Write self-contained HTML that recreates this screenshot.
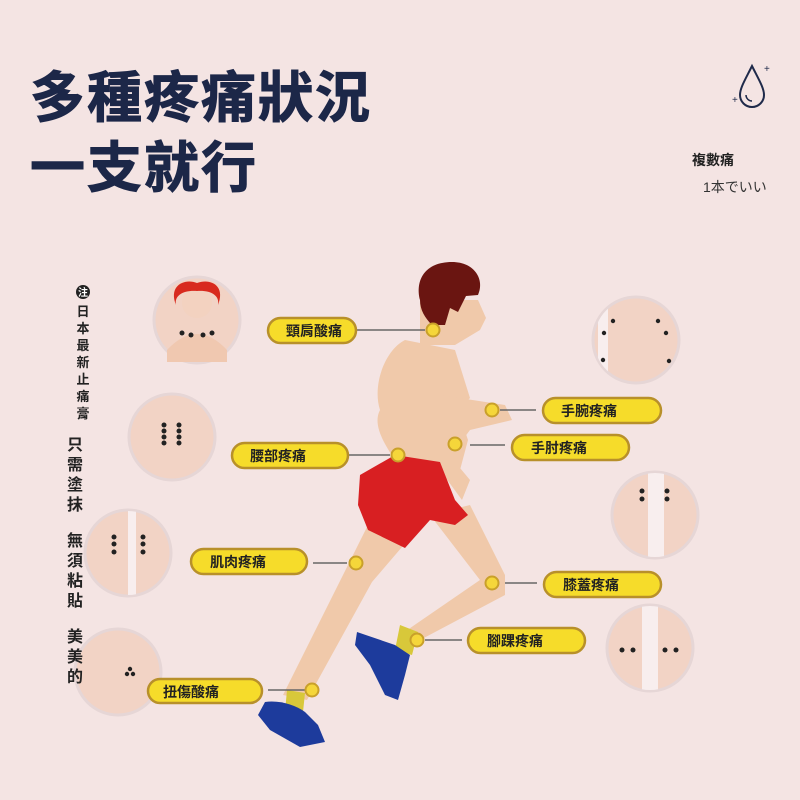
<!DOCTYPE html>
<html><head><meta charset="utf-8"><style>
body{margin:0;width:800px;height:800px;overflow:hidden;background:#f4e4e3;font-family:"Liberation Sans","Noto Sans CJK TC",sans-serif}
</style></head><body>
<svg width="800" height="800" viewBox="0 0 800 800" xmlns="http://www.w3.org/2000/svg" style="position:absolute;left:0;top:0">
<defs>
<clipPath id="c1"><circle cx="655" cy="515" r="42"/></clipPath>
<clipPath id="c2"><circle cx="650" cy="648" r="42"/></clipPath>
<clipPath id="c3"><circle cx="636" cy="340" r="42"/></clipPath>
<clipPath id="c4"><circle cx="128" cy="553" r="42"/></clipPath>
</defs>
<rect width="800" height="800" fill="#f4e4e3"/>
<g font-family="Liberation Sans, Noto Sans CJK TC, sans-serif" font-weight="bold">
<text x="30" y="117" font-size="55" fill="#1c2748" letter-spacing="2" stroke="#1c2748" stroke-width="1">多種疼痛狀況</text>
<text x="30" y="187" font-size="55" fill="#1c2748" letter-spacing="2" stroke="#1c2748" stroke-width="1">一支就行</text>
<text x="692" y="165" font-size="14" fill="#222">複數痛</text>
<text x="703" y="192" font-size="14" fill="#333" font-weight="normal">1本でいい</text>
</g>
<path d="M752 66 C745 80 740 88 740 95 A12 12 0 0 0 764 95 C764 88 759 80 752 66Z" fill="none" stroke="#1f2a4a" stroke-width="2"/>
<path d="M746 95 A6 6 0 0 0 752 101" fill="none" stroke="#1f2a4a" stroke-width="1.5"/>
<text x="732" y="103" font-size="10" fill="#1f2a4a">+</text>
<text x="764" y="72" font-size="10" fill="#1f2a4a">+</text>

<g fill="#f2d3c5" stroke="#e6d6d6" stroke-width="3">
<circle cx="197" cy="320" r="43"/>
<circle cx="172" cy="437" r="43"/>
<circle cx="128" cy="553" r="43"/>
<circle cx="118" cy="672" r="43"/>
<circle cx="636" cy="340" r="43"/>
<circle cx="655" cy="515" r="43"/>
<circle cx="650" cy="648" r="43"/>
</g>
<rect x="648" y="470" width="16" height="90" fill="#f8eeee" clip-path="url(#c1)"/>
<rect x="642" y="600" width="16" height="95" fill="#f8eeee" clip-path="url(#c2)"/>
<rect x="598" y="300" width="10" height="80" fill="#f8eeee" clip-path="url(#c3)"/>
<rect x="128" y="510" width="8" height="90" fill="#f8eeee" clip-path="url(#c4)"/>
<circle cx="197" cy="303" r="15" fill="#f3d2c0"/>
<path d="M176 305 C168 285 185 278 197 283 C210 278 226 285 218 305 C220 295 210 290 197 291 C184 290 174 295 176 305Z" fill="#d82a1e"/>
<path d="M167 350 Q197 318 227 350 L227 362 L167 362Z" fill="#f0c8b0"/>
<g fill="#222">
<circle cx="182" cy="333" r="2.5"/><circle cx="191" cy="335" r="2.5"/><circle cx="203" cy="335" r="2.5"/><circle cx="212" cy="333" r="2.5"/>
<circle cx="164" cy="425" r="2.5"/><circle cx="164" cy="431" r="2.5"/><circle cx="164" cy="437" r="2.5"/><circle cx="164" cy="443" r="2.5"/>
<circle cx="179" cy="425" r="2.5"/><circle cx="179" cy="431" r="2.5"/><circle cx="179" cy="437" r="2.5"/><circle cx="179" cy="443" r="2.5"/>
<circle cx="114" cy="537" r="2.5"/><circle cx="114" cy="544" r="2.5"/><circle cx="114" cy="552" r="2.5"/>
<circle cx="143" cy="537" r="2.5"/><circle cx="143" cy="544" r="2.5"/><circle cx="143" cy="552" r="2.5"/>
<circle cx="130" cy="669" r="2.2"/><circle cx="127" cy="674" r="2.2"/><circle cx="133" cy="674" r="2.2"/>
<circle cx="613" cy="321" r="2.2"/><circle cx="604" cy="333" r="2.2"/><circle cx="603" cy="360" r="2.2"/>
<circle cx="658" cy="321" r="2.2"/><circle cx="666" cy="333" r="2.2"/><circle cx="669" cy="361" r="2.2"/>
<circle cx="642" cy="491" r="2.5"/><circle cx="642" cy="499" r="2.5"/><circle cx="667" cy="491" r="2.5"/><circle cx="667" cy="499" r="2.5"/>
<circle cx="622" cy="650" r="2.5"/><circle cx="633" cy="650" r="2.5"/><circle cx="665" cy="650" r="2.5"/><circle cx="676" cy="650" r="2.5"/>
</g>

<g fill="#f0c9aa">
<path d="M420 300 L478 300 L486 318 L480 330 L470 336 L455 345 L420 345Z"/>
<path d="M405 340 C385 350 372 385 380 410 C372 425 385 445 395 460 L460 470 L468 440 L458 410 L470 398 L455 350 Z"/>
<path d="M440 395 L505 405 L512 420 L470 430 L455 450 L445 430Z"/>
<path d="M445 450 L470 480 L462 500 L440 470Z"/>
<path d="M368 525 L408 540 L372 582 L307 700 L283 695 L343 575Z"/>
<path d="M430 515 L470 505 L505 575 L505 595 L420 640 L400 635 L480 580Z"/>
</g>
<path d="M420 300 C415 280 425 262 452 262 C475 262 485 280 478 295 L466 296 L458 312 L450 308 L445 325 L432 325 C425 318 420 310 420 300Z" fill="#6a1511"/>
<path d="M360 475 L395 455 L440 462 L455 500 L468 515 L455 525 L430 520 L405 548 L368 530 L358 505Z" fill="#d81f22"/>
<path d="M287 690 L305 693 L303 712 L285 712Z" fill="#d8c83a"/>
<path d="M400 625 L418 632 L412 655 L395 650Z" fill="#d8c83a"/>
<path d="M265 702 C280 700 295 705 305 712 L318 725 L325 742 L300 747 L270 730 L258 715Z" fill="#1d3b9c"/>
<path d="M357 632 L395 645 L410 655 L405 675 L398 700 L385 695 L370 665 L355 645Z" fill="#1d3b9c"/>

<g stroke="#666" stroke-width="1.5">
<line x1="356" y1="330" x2="425" y2="330"/>
<line x1="348" y1="455" x2="390" y2="455"/>
<line x1="313" y1="563" x2="347" y2="563"/>
<line x1="268" y1="690" x2="305" y2="690"/>
<line x1="500" y1="410" x2="536" y2="410"/>
<line x1="470" y1="445" x2="505" y2="445"/>
<line x1="505" y1="583" x2="537" y2="583"/>
<line x1="425" y1="640" x2="462" y2="640"/>
</g>
<g fill="#f5d63a" stroke="#c9a02a" stroke-width="2">
<circle cx="433" cy="330" r="6.5"/><circle cx="398" cy="455" r="6.5"/><circle cx="356" cy="563" r="6.5"/><circle cx="312" cy="690" r="6.5"/>
<circle cx="492" cy="410" r="6.5"/><circle cx="455" cy="444" r="6.5"/><circle cx="492" cy="583" r="6.5"/><circle cx="417" cy="640" r="6.5"/>
</g>
<g fill="#f6dc2a" stroke="#b8902a" stroke-width="2.5">
<rect x="268" y="318" width="88" height="25" rx="12.5"/>
<rect x="232" y="443" width="116" height="25" rx="12.5"/>
<rect x="191" y="549" width="116" height="25" rx="12.5"/>
<rect x="148" y="679" width="114" height="24" rx="12"/>
<rect x="543" y="398" width="118" height="25" rx="12.5"/>
<rect x="512" y="435" width="117" height="25" rx="12.5"/>
<rect x="544" y="572" width="117" height="25" rx="12.5"/>
<rect x="468" y="628" width="117" height="25" rx="12.5"/>
</g>
<g font-family="Liberation Sans, Noto Sans CJK TC, sans-serif" font-weight="bold" font-size="14" fill="#222">
<text x="286" y="336">頸肩酸痛</text>
<text x="250" y="461">腰部疼痛</text>
<text x="210" y="567">肌肉疼痛</text>
<text x="163" y="697">扭傷酸痛</text>
<text x="561" y="416">手腕疼痛</text>
<text x="531" y="453">手肘疼痛</text>
<text x="563" y="590">膝蓋疼痛</text>
<text x="487" y="646">腳踝疼痛</text>
</g>
<circle cx="83" cy="292" r="7" fill="#222"/>
<text x="83" y="296" font-size="10" fill="#fff" text-anchor="middle" font-weight="bold" font-family="Noto Sans CJK TC, sans-serif">注</text>
<g font-family="Liberation Sans, Noto Sans CJK TC, sans-serif" font-weight="bold" fill="#222" text-anchor="middle">
<g font-size="13">
<text x="83" y="316">日</text><text x="83" y="333">本</text><text x="83" y="350">最</text><text x="83" y="367">新</text><text x="83" y="384">止</text><text x="83" y="401">痛</text><text x="83" y="418">膏</text>
</g>
<g font-size="16">
<text x="75" y="450">只</text><text x="75" y="470">需</text><text x="75" y="490">塗</text><text x="75" y="510">抹</text>
<text x="75" y="546">無</text><text x="75" y="566">須</text><text x="75" y="586">粘</text><text x="75" y="606">貼</text>
<text x="75" y="642">美</text><text x="75" y="662">美</text><text x="75" y="682">的</text>
</g>
</g>
</svg>
</body></html>
